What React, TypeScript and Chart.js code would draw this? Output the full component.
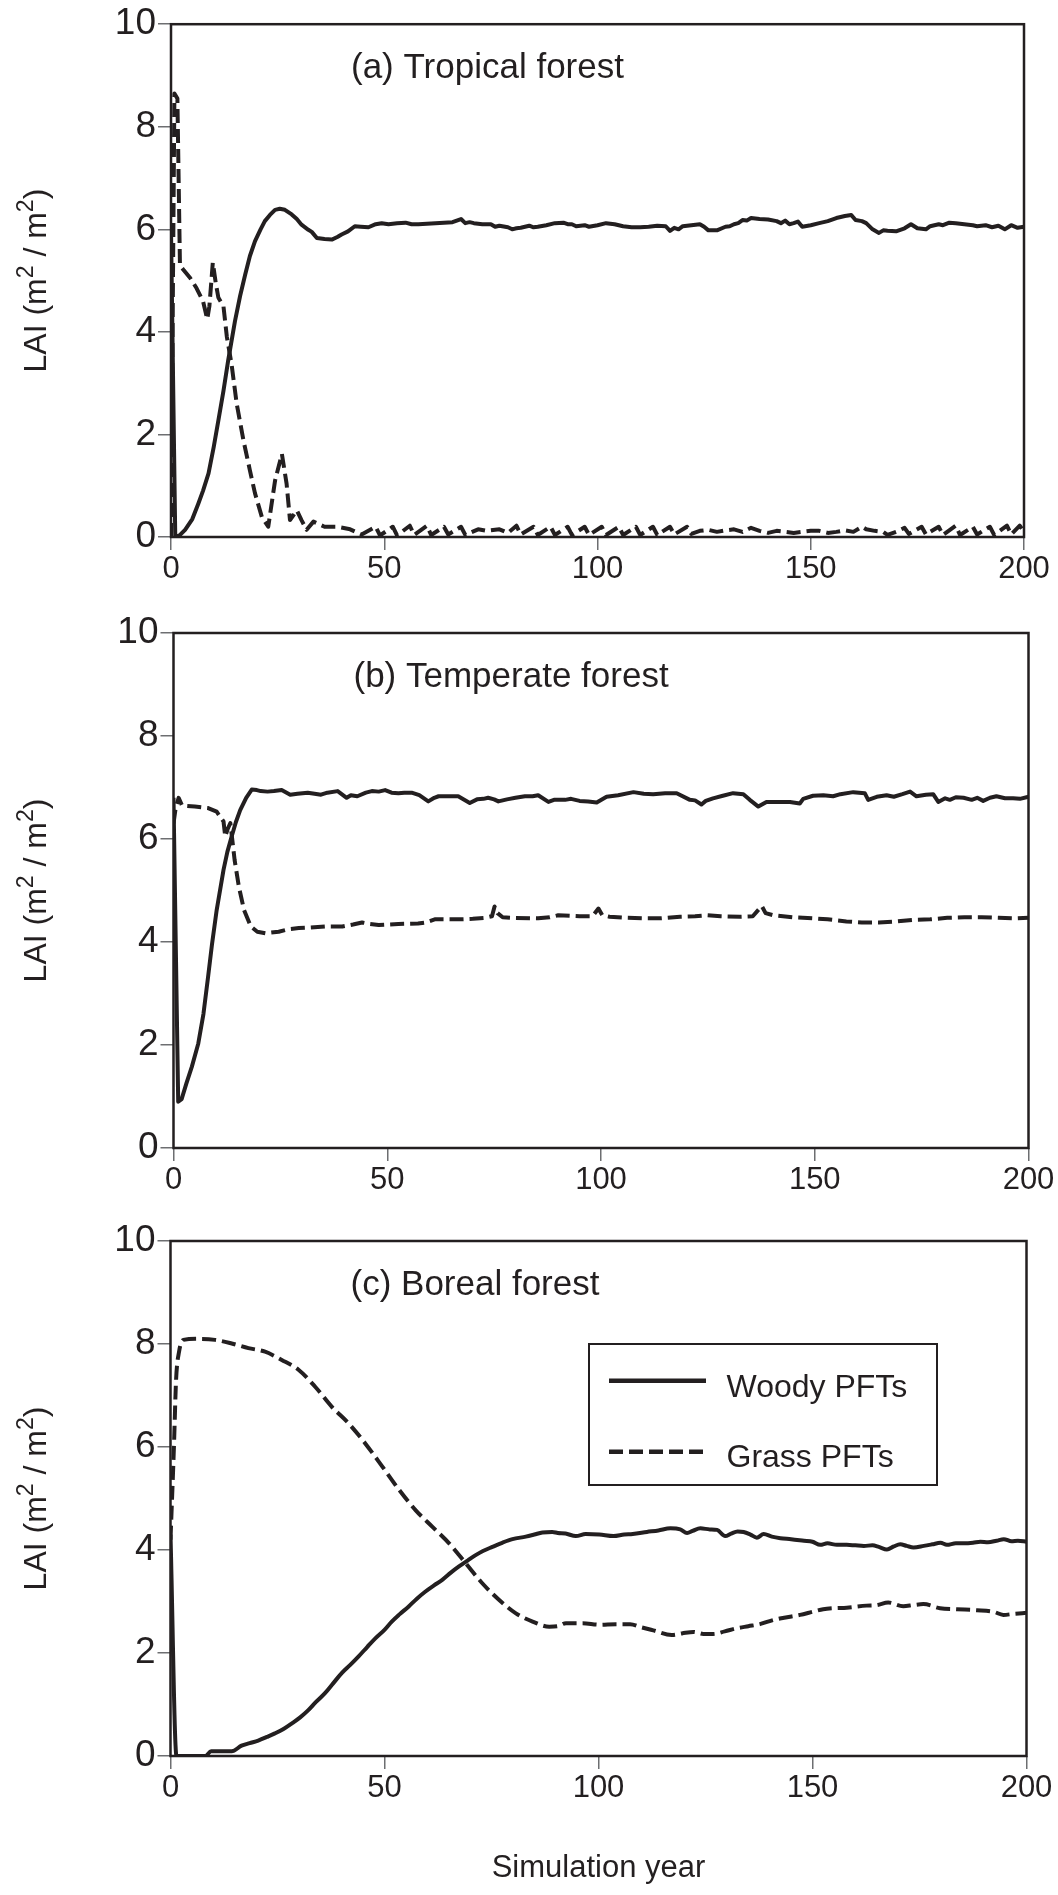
import React, { useEffect, useRef } from "react";
import { Chart, registerables } from "chart.js";

Chart.register(...registerables);

const FONT = "'Liberation Sans', Arial, Helvetica, sans-serif";
const INK = "#231f20";

// ---- axis ticks ----
const xTickValues = [0, 50, 100, 150, 200];
const yTickValues = [0, 2, 4, 6, 8, 10];
const seriesLabels = ["Woody PFTs", "Grass PFTs"];
const panelTitles = ["(a) Tropical forest", "(b) Temperate forest", "(c) Boreal forest"];
const yAxisTitleParts = ["LAI (m", "2", " / m", "2", ")"];
const xAxisTitle = "Simulation year";

// ---- (a) Tropical forest ----
const woodyYearsA = [
  0, 1, 2, 3.3, 5, 6.4, 7.5, 8.8, 10, 11.1,
  12.3, 13.4, 15, 16.2, 17.4, 18.5, 19.7, 21, 22, 23.2,
  24.4, 25.5, 26.7, 28.3, 29.5, 30.6, 32.2, 33, 34.2, 36,
  37.7, 39, 40, 41.5, 43.1, 44.5, 46.3, 48, 49.4, 51,
  53, 55, 56.4, 58, 60, 62, 64, 66, 68, 69,
  70, 71, 73, 75, 76, 77, 79, 80, 81, 82,
  84, 85, 86, 88, 90, 92, 93, 94, 95, 97,
  98, 100, 102, 104, 106, 108, 110, 112, 114, 116,
  117, 118, 119, 120, 122, 124, 125, 126, 128, 130,
  131, 132, 133, 134, 135, 136, 138, 140, 142, 143,
  144, 145, 146, 147, 148, 150, 152, 154, 156, 158,
  159.5, 160.5, 162, 163, 164.5, 166, 167, 168, 170, 172,
  173.5, 175, 177, 178, 180, 181, 182.5, 184, 186, 188,
  189, 191, 192.5, 194, 195.5, 197, 198.5, 200,
];
const woodyA = [
  6.0, 0.0, 0.03, 0.14, 0.35, 0.65, 0.9, 1.24, 1.75, 2.27,
  2.85, 3.44, 4.21, 4.7, 5.12, 5.48, 5.77, 6.0, 6.16, 6.28,
  6.38, 6.4, 6.38, 6.29, 6.2, 6.09, 5.99, 5.95, 5.83, 5.81,
  5.8, 5.85, 5.9, 5.96, 6.06, 6.05, 6.04, 6.1, 6.12, 6.1,
  6.12, 6.13, 6.1, 6.1, 6.11, 6.12, 6.13, 6.14, 6.2, 6.12,
  6.14, 6.12, 6.1, 6.1, 6.05, 6.07, 6.04, 6.0, 6.02, 6.03,
  6.07, 6.04, 6.05, 6.08, 6.12, 6.13, 6.1, 6.1, 6.06, 6.08,
  6.05, 6.08, 6.12, 6.1, 6.06, 6.04, 6.04, 6.05, 6.07, 6.06,
  5.97, 6.03, 6.0, 6.06, 6.08, 6.1, 6.05, 5.98, 5.98, 6.05,
  6.06, 6.1, 6.12, 6.18, 6.17, 6.22, 6.2, 6.19, 6.16, 6.12,
  6.17, 6.1, 6.12, 6.15, 6.05, 6.08, 6.12, 6.16, 6.22, 6.26,
  6.28, 6.18, 6.16, 6.12, 6.0, 5.93, 5.98, 5.97, 5.96, 6.02,
  6.1, 6.02, 6.0, 6.06, 6.1, 6.08, 6.13, 6.12, 6.1, 6.08,
  6.06, 6.08, 6.04, 6.07, 6.0, 6.08, 6.03, 6.05,
];
const grassYearsA = [
  0, 0.8, 1.5, 2.1, 3, 4.5, 6, 7.5, 8.5, 9,
  9.8, 10.5, 11.1, 12.3, 13.1, 14.2, 15.4, 17, 18.5, 19.7,
  21.3, 22.8, 24.4, 26, 27.1, 27.9, 29.5, 30.6, 31.8, 33.4,
  36, 39, 42, 44.7,
  48, 49, 52, 53, 56, 57, 60, 61, 64, 65,
  68, 69, 72, 74, 77, 79, 81, 82, 85, 86,
  89, 90, 93, 94, 97, 98, 101, 102, 105, 106,
  109, 110, 113, 114, 117, 118, 121, 122, 124, 126,
  128, 130, 132, 134, 136, 138, 140, 142, 144, 146,
  148, 150, 152, 154, 156, 158, 160, 162, 163, 165,
  167, 168, 170, 172, 173, 176, 177, 180, 181, 184,
  185, 188, 189, 192, 193, 196, 197, 199, 200,
];
const grassA = [
  0, 8.65, 8.55, 5.3, 5.2, 5.05, 4.85, 4.6, 4.25, 4.5,
  5.35, 4.95, 4.67, 4.5, 3.9, 3.37, 2.6, 1.88, 1.3, 0.85,
  0.39, 0.2, 1.1, 1.62, 1.04, 0.33, 0.52, 0.33, 0.14, 0.3,
  0.2, 0.2, 0.15, 0.05,
  0.2, 0.03, 0.2, 0.03, 0.22, 0.04, 0.22, 0.04, 0.2, 0.05,
  0.2, 0.04, 0.15, 0.12, 0.15, 0.08, 0.22, 0.05, 0.2, 0.04,
  0.2, 0.04, 0.2, 0.04, 0.2, 0.04, 0.2, 0.04, 0.2, 0.04,
  0.2, 0.04, 0.2, 0.04, 0.2, 0.05, 0.2, 0.06, 0.12, 0.14,
  0.1, 0.13, 0.15, 0.1, 0.18, 0.12, 0.08, 0.12, 0.1, 0.08,
  0.1, 0.12, 0.12, 0.08, 0.1, 0.13, 0.1, 0.2, 0.15, 0.12,
  0.1, 0.04, 0.1, 0.18, 0.06, 0.2, 0.05, 0.2, 0.04, 0.22,
  0.04, 0.2, 0.05, 0.2, 0.04, 0.22, 0.05, 0.22, 0.1,
];

// ---- (b) Temperate forest ----
const woodyYearsB = [
  0, 1.1, 1.9, 3, 4.3, 5.8, 7, 8.1, 9, 10.1,
  11.7, 12.6, 13.6, 14.6, 15.6, 17, 18.3, 19.5, 20.4, 22,
  23.5, 25.3, 27.3, 29, 31.4, 33, 34.5, 36, 38.4, 40.5,
  41.5, 43, 45, 46.4, 48, 49.5, 51, 52.6, 54, 55.7,
  57.5, 59.6, 61, 62, 64, 66.6, 69.3, 71, 72.5, 73.6,
  75, 76, 78, 80, 82.2, 84, 85.3, 87.7, 89, 91.6,
  93, 95, 97, 99, 101.3, 104, 107.6, 110, 112.2, 115,
  117.7, 120.8, 122, 123.5, 124.5, 126.2, 128.5, 130.9, 133.3, 134.8,
  136.8, 138.7, 141, 144.2, 146.5, 147.3, 149.6, 152, 154.3, 156,
  159, 161.7, 162.5, 164.5, 166.8, 168.5, 170.5, 172.3, 173.8, 176,
  177.7, 178.9, 180.5, 181.6, 183, 184.8, 186.7, 188, 189.4, 191,
  192.5, 194.5, 196.4, 198, 200,
];
const woodyB = [
  6.8, 0.9, 0.95, 1.25, 1.58, 2.03, 2.6, 3.33, 3.95, 4.62,
  5.4, 5.75, 6.05, 6.33, 6.56, 6.8, 6.96, 6.95, 6.93, 6.92,
  6.93, 6.95, 6.86, 6.88, 6.9, 6.88, 6.86, 6.9, 6.93, 6.8,
  6.85, 6.83, 6.9, 6.93, 6.92, 6.95, 6.9, 6.89, 6.9, 6.9,
  6.85, 6.73, 6.8, 6.83, 6.83, 6.83, 6.7, 6.77, 6.78, 6.8,
  6.77, 6.73, 6.77, 6.8, 6.83, 6.83, 6.85, 6.72, 6.76, 6.76,
  6.78, 6.74, 6.73, 6.71, 6.82, 6.85, 6.91, 6.88, 6.87, 6.89,
  6.89, 6.76, 6.75, 6.67, 6.74, 6.79, 6.84, 6.89, 6.87, 6.76,
  6.63, 6.72, 6.72, 6.72, 6.69, 6.78, 6.84, 6.85, 6.83, 6.87,
  6.91, 6.89, 6.76, 6.82, 6.85, 6.82, 6.87, 6.92, 6.83, 6.86,
  6.87, 6.72, 6.79, 6.76, 6.81, 6.8, 6.76, 6.8, 6.74, 6.8,
  6.83, 6.79, 6.79, 6.78, 6.82,
];
const grassYearsB = [
  0, 0.5, 1.2, 2, 5, 8.1, 10.1, 11.7, 12.1, 12.7,
  13.3, 14.3, 15.3, 16.5, 18.1, 19.6, 21.5, 24.6, 27, 29.3,
  32, 35.6, 39.5, 42, 44.1, 46, 48, 52.6, 57.2, 59,
  61.1, 66.6, 70, 72.8, 74.5, 75.1, 75.8, 77, 79.1, 85.3,
  88, 90, 95, 98, 99.4, 100.3, 102, 106, 110.7, 114,
  118.5, 122, 124.7, 128, 132.5, 135.5, 137.6, 138.5, 140.3, 145,
  149.6, 153, 157.4, 161, 165, 169, 173, 177, 181, 185,
  189, 193, 197, 200,
];
const grassB = [
  6.3, 6.6, 6.8, 6.65, 6.63, 6.6, 6.53, 6.34, 6.05, 6.2,
  6.31, 5.59, 5.07, 4.62, 4.3, 4.2, 4.17, 4.2, 4.25, 4.27,
  4.28, 4.3, 4.3, 4.34, 4.38, 4.35, 4.33, 4.35, 4.36, 4.38,
  4.44, 4.44, 4.45, 4.47, 4.5, 4.69, 4.56, 4.48, 4.47, 4.46,
  4.48, 4.52, 4.5, 4.5, 4.65, 4.52, 4.49, 4.47, 4.46, 4.46,
  4.49, 4.5, 4.52, 4.5, 4.49, 4.5, 4.7, 4.56, 4.52, 4.48,
  4.46, 4.44, 4.4, 4.38, 4.38, 4.4, 4.43, 4.44, 4.47, 4.48,
  4.48, 4.47, 4.46, 4.47,
];

// ---- (c) Boreal forest ----
const woodyYearsC = [
  0, 1.4, 4, 8.1, 9.5, 12, 14.3, 16.6, 18.5, 20.5,
  22.5, 24.4, 26.5, 28.3, 30.3, 32.2, 34, 36.1, 38, 40,
  42, 43.9, 46, 47.8, 50, 51.7, 53.5, 55.6, 57.5, 59.5,
  61.5, 63.5, 65.5, 67.4, 69.5, 71.3, 73, 75.2, 77.5, 79.9,
  83, 85, 86.9, 89.2, 90.5, 92.3, 94.7, 97, 100.2, 103.5,
  106, 108, 111.3, 114, 116.8, 119.1, 120.7, 122, 123.8, 126,
  127.7, 129.6, 131, 132.5, 133.9, 135.5, 137, 138.6, 140.5, 142.5,
  145, 148, 150, 151.8, 153.5, 155.7, 158, 160, 162, 164,
  165.5, 167.4, 169, 170.5, 172, 173.6, 176, 178, 179.9, 181.4,
  183.5, 185.3, 187.5, 189.2, 191, 193, 194.7, 196.5, 198, 200,
];
const woodyC = [
  4.3, 0, 0, 0, 0.09, 0.09, 0.09, 0.2, 0.25, 0.3,
  0.37, 0.44, 0.53, 0.63, 0.75, 0.89, 1.05, 1.22, 1.41, 1.61,
  1.77, 1.93, 2.12, 2.28, 2.45, 2.61, 2.75, 2.9, 3.05, 3.19,
  3.31, 3.42, 3.56, 3.68, 3.8, 3.9, 3.98, 4.06, 4.14, 4.21,
  4.26, 4.3, 4.34, 4.35, 4.33, 4.32, 4.27, 4.31, 4.3, 4.27,
  4.3, 4.31, 4.35, 4.38, 4.42, 4.4, 4.33, 4.37, 4.42, 4.4,
  4.39, 4.27, 4.32, 4.36, 4.35, 4.3, 4.24, 4.31, 4.26, 4.23,
  4.21, 4.18, 4.16, 4.1, 4.13, 4.1, 4.1, 4.09, 4.08, 4.09,
  4.06, 4.01, 4.07, 4.11, 4.08, 4.05, 4.08, 4.11, 4.14, 4.1,
  4.13, 4.13, 4.14, 4.16, 4.15, 4.18, 4.21, 4.17, 4.18, 4.16,
];
const grassYearsC = [
  0, 0.8, 1.3, 2, 3, 6.5, 10.4, 14.3, 18.2, 22.1,
  26, 29.9, 33.8, 37.7, 41.6, 45.5, 49.5, 53.4, 57.3, 61.2,
  65.1, 69, 72.9, 76.8, 80.7, 84.6, 88.5, 90.5, 92.4, 96.3,
  100.2, 104.1, 107.4, 110, 112.8, 117.1, 119.5, 122.2, 124.5, 126.8,
  129.5, 132.3, 135, 137.7, 140, 142.4, 147.1, 150, 152.5, 155,
  158, 162.6, 165, 167.7, 171.2, 173.5, 175.9, 179.8, 183.7, 188.4,
  192.3, 194.6, 197, 200,
];
const grassC = [
  4.2, 6.0, 7.3, 7.85, 8.08, 8.1, 8.08, 8.01, 7.92, 7.85,
  7.69, 7.5, 7.17, 6.78, 6.46, 6.07, 5.62, 5.17, 4.77, 4.45,
  4.13, 3.74, 3.35, 3.03, 2.77, 2.61, 2.51, 2.52, 2.58, 2.58,
  2.55, 2.56, 2.56, 2.5, 2.44, 2.35, 2.38, 2.41, 2.37, 2.37,
  2.42, 2.48, 2.52, 2.56, 2.62, 2.67, 2.74, 2.8, 2.85, 2.87,
  2.88, 2.92, 2.93, 2.98, 2.91, 2.93, 2.95, 2.87, 2.85, 2.83,
  2.8, 2.74, 2.76, 2.78,
];

type PanelSpec = {
  title: string;
  woodyX: number[];
  woodyY: number[];
  grassX: number[];
  grassY: number[];
  top: number;
  height: number;
  pad: { left: number; top: number; right: number; bottom: number };
  yWidth: number;
  xHeight: number;
  legend: boolean;
  xTitle: boolean;
  smooth: boolean;
};

const panels: PanelSpec[] = [
  {
    title: panelTitles[0], woodyX: woodyYearsA, woodyY: woodyA, grassX: grassYearsA, grassY: grassA,
    top: 0, height: 600, pad: { left: 13, top: 22, right: 34, bottom: 3 }, yWidth: 158, xHeight: 60,
    legend: false, xTitle: false, smooth: false,
  },
  {
    title: panelTitles[1], woodyX: woodyYearsB, woodyY: woodyB, grassX: grassYearsB, grassY: grassB,
    top: 600, height: 610, pad: { left: 13, top: 33, right: 29.5, bottom: 2 }, yWidth: 160.5, xHeight: 60,
    legend: false, xTitle: false, smooth: false,
  },
  {
    title: panelTitles[2], woodyX: woodyYearsC, woodyY: woodyC, grassX: grassYearsC, grassY: grassC,
    top: 1210, height: 685, pad: { left: 13, top: 31, right: 31.5, bottom: 4.4 }, yWidth: 157.5, xHeight: 134.6,
    legend: true, xTitle: true, smooth: true,
  },
];

const DASH = [14, 6];
const LINE_W = 4;

function toPoints(xs: number[], ys: number[]) {
  const n = Math.min(xs.length, ys.length);
  const pts: { x: number; y: number }[] = [];
  for (let i = 0; i < n; i++) pts.push({ x: xs[i], y: ys[i] });
  return pts;
}

function Panel({ spec }: { spec: PanelSpec }) {
  const ref = useRef<HTMLCanvasElement | null>(null);

  useEffect(() => {
    const canvas = ref.current;
    if (!canvas) return;

    const framePlugin = {
      id: "frame",
      afterDatasetsDraw(chart: any) {
        const { ctx, chartArea: a } = chart;
        ctx.save();
        ctx.strokeStyle = INK;
        ctx.lineWidth = 2.5;
        ctx.strokeRect(a.left, a.top, a.right - a.left, a.bottom - a.top);
        ctx.restore();
      },
    };

    const titlePlugin = {
      id: "panelTitle",
      afterDraw(chart: any) {
        const { ctx, chartArea: a } = chart;
        ctx.save();
        ctx.fillStyle = INK;
        ctx.font = `35px ${FONT}`;
        ctx.textAlign = "left";
        ctx.textBaseline = "alphabetic";
        ctx.fillText(spec.title, a.left + 180, a.top + 54);
        ctx.restore();
      },
    };

    // rotated y-axis title with raised superscripts
    const yTitlePlugin = {
      id: "yTitle",
      afterDraw(chart: any) {
        const { ctx, chartArea: a } = chart;
        const mainFont = `32px ${FONT}`;
        const supFont = `23px ${FONT}`;
        ctx.save();
        ctx.fillStyle = INK;
        ctx.textBaseline = "middle";
        ctx.textAlign = "left";
        let total = 0;
        const widths = yAxisTitleParts.map((t, i) => {
          ctx.font = i % 2 === 1 ? supFont : mainFont;
          const w = ctx.measureText(t).width;
          total += w;
          return w;
        });
        ctx.translate(37, (a.top + a.bottom) / 2);
        ctx.rotate(-Math.PI / 2);
        let x = -total / 2;
        yAxisTitleParts.forEach((t, i) => {
          const sup = i % 2 === 1;
          ctx.font = sup ? supFont : mainFont;
          ctx.fillText(t, x, sup ? -10 : 0);
          x += widths[i];
        });
        ctx.restore();
      },
    };

    const legendPlugin = {
      id: "boxLegend",
      afterDraw(chart: any) {
        if (!spec.legend) return;
        const { ctx, chartArea: a } = chart;
        const bx = a.left + 418.5;
        const by = a.top + 103;
        const bw = 348;
        const bh = 141;
        ctx.save();
        ctx.fillStyle = "#ffffff";
        ctx.fillRect(bx, by, bw, bh);
        ctx.strokeStyle = INK;
        ctx.lineWidth = 2;
        ctx.strokeRect(bx, by, bw, bh);
        const rows = [
          { dy: 36.7, ty: 52.7, dash: [] as number[] },
          { dy: 107.7, ty: 122.7, dash: DASH },
        ];
        chart.data.datasets.forEach((ds: any, i: number) => {
          const r = rows[i];
          ctx.beginPath();
          ctx.setLineDash(r.dash);
          ctx.lineWidth = 4.5;
          ctx.strokeStyle = INK;
          ctx.moveTo(bx + 20, by + r.dy);
          ctx.lineTo(bx + 117, by + r.dy);
          ctx.stroke();
          ctx.setLineDash([]);
          ctx.fillStyle = INK;
          ctx.font = `32px ${FONT}`;
          ctx.textAlign = "left";
          ctx.textBaseline = "alphabetic";
          ctx.fillText(ds.label, bx + 137.5, by + r.ty);
        });
        ctx.restore();
      },
    };

    const chart = new Chart(canvas, {
      type: "line",
      data: {
        datasets: [
          {
            label: seriesLabels[0],
            data: toPoints(spec.woodyX, spec.woodyY),
            borderColor: INK,
            backgroundColor: INK,
            borderWidth: LINE_W,
            pointRadius: 0,
            tension: 0,
            cubicInterpolationMode: spec.smooth ? "monotone" : "default",
            borderJoinStyle: "round",
            fill: false,
          },
          {
            label: seriesLabels[1],
            data: toPoints(spec.grassX, spec.grassY),
            borderColor: INK,
            backgroundColor: INK,
            borderWidth: LINE_W,
            borderDash: DASH,
            pointRadius: 0,
            tension: 0,
            cubicInterpolationMode: spec.smooth ? "monotone" : "default",
            borderJoinStyle: "round",
            fill: false,
          },
        ],
      } as any,
      options: {
        animation: false,
        responsive: false,
        devicePixelRatio: 1,
        layout: { padding: spec.pad },
        plugins: {
          legend: { display: false },
          tooltip: { enabled: false },
          title: { display: false },
        },
        scales: {
          x: {
            type: "linear",
            min: 0,
            max: 200,
            afterBuildTicks: (s: any) => {
              s.ticks = xTickValues.map((v) => ({ value: v }));
            },
            afterFit: (s: any) => {
              s.height = spec.xHeight;
            },
            grid: {
              drawOnChartArea: false,
              drawTicks: true,
              tickLength: 13,
              color: "#6d6e71",
              lineWidth: 1.5,
            },
            border: { display: false },
            ticks: {
              font: { family: FONT, size: 31 },
              color: INK,
              padding: 1,
              maxRotation: 0,
              autoSkip: false,
              callback: (v: any) => String(v),
            },
            title: {
              display: spec.xTitle,
              text: xAxisTitle,
              color: INK,
              font: { family: FONT, size: 31 },
            },
          },
          y: {
            type: "linear",
            min: 0,
            max: 10,
            afterBuildTicks: (s: any) => {
              s.ticks = yTickValues.map((v) => ({ value: v }));
            },
            afterFit: (s: any) => {
              s.width = spec.yWidth;
            },
            grid: {
              drawOnChartArea: false,
              drawTicks: true,
              tickLength: 13,
              color: "#6d6e71",
              lineWidth: 1.5,
            },
            border: { display: false },
            ticks: {
              font: { family: FONT, size: 37 },
              color: INK,
              padding: 2,
              autoSkip: false,
              callback: (v: any) => String(v),
            },
            title: { display: false },
          },
        },
      } as any,
      plugins: [framePlugin, titlePlugin, yTitlePlugin, legendPlugin],
    });

    return () => {
      chart.destroy();
    };
  }, [spec]);

  return (
    <canvas
      ref={ref}
      width={1058}
      height={spec.height}
      style={{ position: "absolute", left: 0, top: spec.top, width: 1058, height: spec.height, display: "block" }}
    />
  );
}

export default function App() {
  return (
    <div
      style={{
        position: "absolute",
        left: 0,
        top: 0,
        width: 1058,
        height: 1895,
        background: "#ffffff",
        overflow: "hidden",
      }}
    >
      {panels.map((p, i) => (
        <Panel key={i} spec={p} />
      ))}
    </div>
  );
}
